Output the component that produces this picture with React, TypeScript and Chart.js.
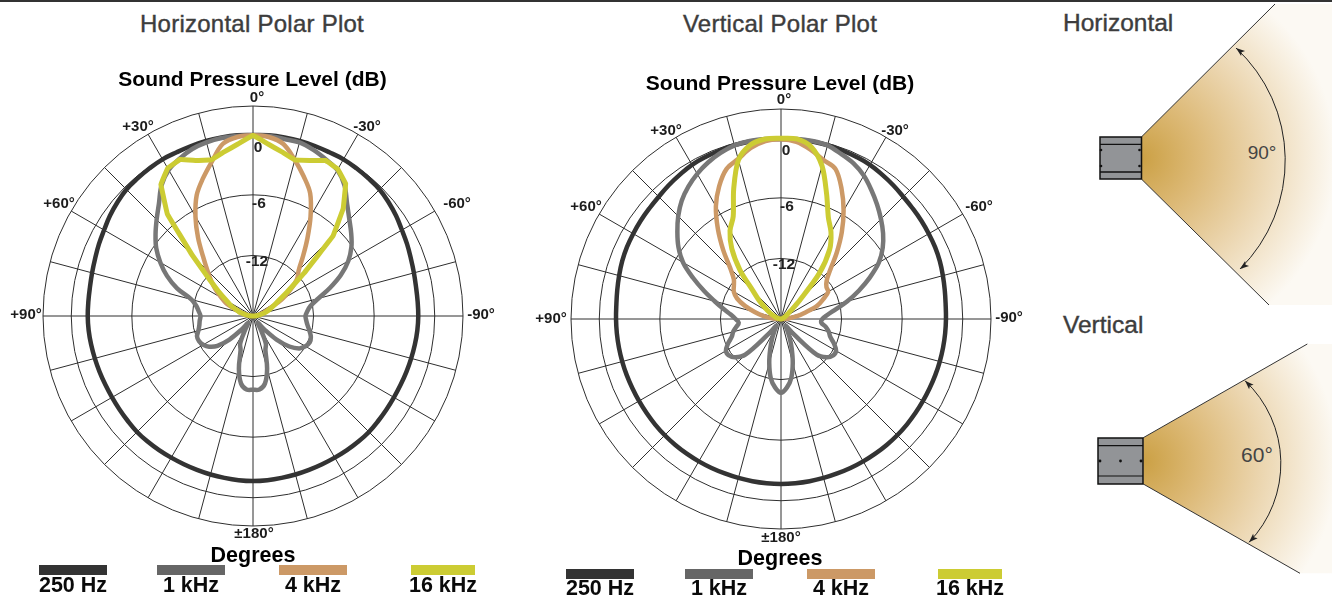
import React, { useEffect, useRef } from "react";
import { Chart, registerables } from "chart.js";

Chart.register(...registerables);

const angles = [
  0, 5, 10, 15, 20, 25, 30, 35, 40, 45, 50, 55,
  60, 65, 70, 75, 80, 85, 90, 95, 100, 105, 110, 115,
  120, 125, 130, 135, 140, 145, 150, 155, 160, 165, 170, 175,
  180, 185, 190, 195, 200, 205, 210, 215, 220, 225, 230, 235,
  240, 245, 250, 255, 260, 265, 270, 275, 280, 285, 290, 295,
  300, 305, 310, 315, 320, 325, 330, 335, 340, 345, 350, 355,
];
const seriesNames = ["250 Hz", "1 kHz", "4 kHz", "16 kHz"];
const ringValues = [-18, -12, -6, 0, 2.8];
const tickValues = [0, -6, -12];
const angleLabels = ["0°", "-30°", "-60°", "-90°", "±180°", "+90°", "+60°", "+30°"];
const spokeStep = 15;

// Values in dB, clockwise from 0° (0°, -5°, -10° ... ±180° ... +10°, +5°)
const horiz250 = [
  -0.08, -0.04, -0.04, -0.04, -0.08, -0.11, -0.08, -0.14, -0.21, -0.27, -0.47, -0.7,
  -0.97, -1.16, -1.36, -1.5, -1.6, -1.63, -1.63, -1.66, -1.72, -1.78, -1.83, -1.87,
  -1.88, -1.86, -1.82, -1.76, -1.76, -1.78, -1.8, -1.8, -1.78, -1.75, -1.72, -1.68,
  -1.66, -1.68, -1.72, -1.75, -1.78, -1.8, -1.8, -1.78, -1.76, -1.76, -1.82, -1.86,
  -1.88, -1.87, -1.83, -1.78, -1.72, -1.66, -1.63, -1.63, -1.6, -1.5, -1.36, -1.16,
  -0.97, -0.7, -0.47, -0.27, -0.21, -0.14, -0.08, -0.11, -0.08, -0.04, -0.04, -0.04,
];
const horiz1k = [
  -0.1, -0.1, -0.2, -0.2, -0.5, -0.9, -1.3, -2.2, -3.5, -4.5, -5.3, -6.1,
  -7.1, -8.4, -9.9, -11.3, -12.2, -12.6, -12.8, -12.7, -12.5, -12.2, -11.9, -11.8,
  -12, -12.4, -13.3, -14.7, -16.3, -17.2, -16.5, -15, -14.4, -12.6, -11.2, -10.7,
  -10.7, -10.7, -11.2, -12.6, -14.4, -15, -16.5, -17.2, -16.3, -14.7, -13.4, -12.7,
  -12.3, -12.1, -12.1, -12.4, -12.6, -12.7, -12.8, -12.6, -12.3, -11.7, -10, -8.6,
  -7.4, -6.3, -5.4, -4.5, -3.5, -2.2, -1.3, -0.8, -0.4, -0.2, -0.1, -0.1,
];
const horiz4k = [
  -0.1, -0.2, -0.7, -2, -3.3, -4.6, -6.6, -8.6, -10.3, -11.6, -12.3, -13.5,
  -14.7, -16.1, -16.7, -17.2, -17.5, -17.7, -17.9, -18, -18, -18, -18, -18,
  -18, -18, -18, -18, -18, -18, -18, -18, -18, -18, -18, -18,
  -18, -18, -18, -18, -18, -18, -18, -18, -18, -18, -18, -18,
  -18, -18, -18, -18, -18, -18, -17.9, -17.7, -17.3, -16.8, -16.2, -15.1,
  -14.4, -13.5, -12.6, -11.6, -10.3, -8.5, -6.6, -4.8, -3.5, -2.2, -0.7, -0.2,
];
const horiz16k = [
  -0.1, -0.9, -1.5, -2, -1.6, -1, -1.2, -2, -4.1, -6.8, -11.4, -13.9,
  -15.2, -15.9, -16.4, -16.8, -17.3, -17.6, -17.8, -18, -18, -18, -18, -18,
  -18, -18, -18, -18, -18, -18, -18, -18, -18, -18, -18, -18,
  -18, -18, -18, -18, -18, -18, -18, -18, -18, -18, -18, -18,
  -18, -18, -18, -18, -18, -18, -17.8, -17.6, -17.3, -16.7, -16.3, -15.6,
  -15, -13.9, -12.4, -9.5, -4.8, -2.1, -1.1, -0.9, -1.6, -2, -1.5, -0.9,
];
const vert250 = [
  -0.14, -0.14, -0.14, -0.17, -0.24, -0.3, -0.37, -0.54, -0.7, -0.87, -0.97, -1.03,
  -1.1, -1.16, -1.26, -1.4, -1.53, -1.63, -1.66, -1.68, -1.7, -1.72, -1.74, -1.76,
  -1.76, -1.75, -1.73, -1.72, -1.72, -1.72, -1.72, -1.72, -1.72, -1.7, -1.68, -1.67,
  -1.66, -1.67, -1.68, -1.7, -1.72, -1.72, -1.72, -1.72, -1.72, -1.72, -1.73, -1.75,
  -1.76, -1.76, -1.74, -1.72, -1.7, -1.68, -1.66, -1.63, -1.53, -1.4, -1.26, -1.16,
  -1.1, -1.03, -0.97, -0.87, -0.7, -0.54, -0.37, -0.3, -0.24, -0.17, -0.14, -0.14,
];
const vert1k = [
  -0.2, -0.1, -0.1, -0.2, -0.6, -1, -1.6, -2.4, -3.2, -4, -4.8, -5.7,
  -6.8, -8.3, -9.8, -11.2, -12.5, -13.4, -13.9, -14, -13.5, -13.1, -12.8, -12.2,
  -11.7, -11.7, -12.1, -13, -16, -17.2, -16.8, -16, -14.9, -13.5, -12.1, -11.2,
  -10.7, -11.2, -12.1, -13.5, -14.9, -16, -16.8, -17.2, -16, -13, -12.1, -11.7,
  -11.7, -12.2, -12.8, -13.1, -13.5, -13.8, -13.5, -13, -12.2, -11.2, -9.9, -8.4,
  -6.8, -5.6, -4.6, -3.6, -2.7, -2, -1.4, -0.9, -0.5, -0.2, -0.1, -0.1,
];
const vert4k = [
  -0.2, -0.4, -1, -1.7, -2.2, -3.8, -5.6, -7.5, -9.4, -11.1, -12.1, -12.5,
  -12.6, -13.4, -14.2, -15.5, -16.4, -17.2, -17.7, -18, -18, -18, -18, -18,
  -18, -18, -18, -18, -18, -18, -18, -18, -18, -18, -18, -18,
  -18, -18, -18, -18, -18, -18, -18, -18, -18, -18, -18, -18,
  -18, -18, -18, -18, -18, -18, -17.7, -17, -16.2, -15.3, -14.2, -13.2,
  -12.6, -12.3, -11.9, -10.9, -9.1, -7.1, -5.1, -3.5, -2.2, -1.6, -0.8, -0.3,
];
const vert16k = [
  -0.1, -0.1, -0.7, -2.3, -4.8, -6.9, -8.1, -9.6, -12.1, -15.4, -16.8, -17.3,
  -17.5, -17.7, -17.8, -17.8, -17.9, -17.9, -18, -18, -18, -18, -18, -18,
  -18, -18, -18, -18, -18, -18, -18, -18, -18, -18, -18, -18,
  -18, -18, -18, -18, -18, -18, -18, -18, -18, -18, -18, -18,
  -18, -18, -18, -18, -18, -18, -17.9, -17.9, -17.8, -17.6, -17.4, -17.1,
  -16.7, -16.1, -15.2, -14.1, -11.7, -9.5, -7.9, -6.8, -4.3, -1.7, -0.5, -0.1,
];

const FONT = "'Liberation Sans', Arial, sans-serif";
const lineColors = ["#333333", "#777777", "#CC9966", "#CCCC33"];
const legendColors = ["#333333", "#666666", "#CC9966", "#CCCC33"];
const lineWidths = [4.5, 4.5, 4.5, 5];

const CANVAS = 500;
const PAD = 40;

type Nudge = [number, number];

function PolarChart(props: {
  left: number;
  top: number;
  series: number[][];
  tensions: number[];
  angleNudges: Nudge[];
  tickNudges: Nudge[];
}) {
  const ref = useRef<HTMLCanvasElement>(null);
  useEffect(() => {
    const { series, tensions, angleNudges, tickNudges } = props;
    const labelsPlugin = {
      id: "polarLabels",
      afterDraw(chart: any) {
        const { ctx } = chart;
        const s = chart.scales.r;
        ctx.save();
        ctx.textAlign = "center";
        ctx.textBaseline = "middle";
        ctx.fillStyle = "#1c1c1c";
        ctx.font = `bold 15px ${FONT}`;
        angleLabels.forEach((t, i) => {
          ctx.fillText(t, s.xCenter + angleNudges[i][0], s.yCenter + angleNudges[i][1]);
        });
        ctx.fillStyle = "#222";
        ctx.font = `bold 15.5px ${FONT}`;
        tickValues.forEach((v, i) => {
          const d = s.getDistanceFromCenterForValue(v);
          ctx.fillText(String(v), s.xCenter + tickNudges[i][0], s.yCenter - d + tickNudges[i][1]);
        });
        ctx.restore();
      },
    };
    const chart = new Chart(ref.current as HTMLCanvasElement, {
      type: "radar",
      data: {
        labels: angles,
        datasets: series.map((data, i) => ({
          label: seriesNames[i],
          data,
          borderColor: lineColors[i],
          borderWidth: lineWidths[i],
          backgroundColor: "transparent",
          fill: false,
          pointRadius: 0,
          tension: tensions[i],
          borderJoinStyle: "round",
          order: series.length - i,
        })),
      },
      options: {
        animation: false,
        responsive: false,
        maintainAspectRatio: false,
        events: [],
        layout: { padding: PAD },
        plugins: { legend: { display: false }, tooltip: { enabled: false }, title: { display: false } },
        scales: {
          r: {
            min: ringValues[0],
            max: ringValues[ringValues.length - 1],
            afterBuildTicks(scale: any) {
              scale.ticks = ringValues.map((value) => ({ value }));
            },
            grid: { circular: true, color: "#2e2e2e", lineWidth: 1 },
            angleLines: {
              display: true,
              color: "#2e2e2e",
              lineWidth: (c: any) => (angles[c.index] % spokeStep === 0 ? 1 : 0),
            },
            pointLabels: { display: false },
            ticks: { display: false },
          },
        },
      },
      plugins: [labelsPlugin],
    } as any);
    return () => chart.destroy();
  }, []);
  return (
    <canvas
      ref={ref}
      width={CANVAS}
      height={CANVAS}
      style={{ position: "absolute", left: props.left, top: props.top, width: CANVAS, height: CANVAS }}
    />
  );
}

function Txt(props: {
  x: number;
  y: number;
  size: number;
  bold?: boolean;
  color?: string;
  align?: "center" | "left";
  spacing?: number;
  stroke?: number;
  children: React.ReactNode;
}) {
  const { x, y, size, bold, color, align = "center", spacing = 0, stroke = 0 } = props;
  return (
    <div
      style={{
        position: "absolute",
        left: x,
        top: y,
        transform: align === "center" ? "translate(-50%,-50%)" : "translateY(-50%)",
        font: `${bold ? "bold " : ""}${size}px ${FONT}`,
        color: color || "#000",
        whiteSpace: "nowrap",
        letterSpacing: spacing,
        WebkitTextStroke: stroke ? `${stroke}px ${color || "#000"}` : undefined,
      }}
    >
      {props.children}
    </div>
  );
}

function Legend(props: { bars: [number, number][]; labelXs: number[]; barY: number; labelY: number }) {
  return (
    <>
      {seriesNames.map((name, i) => (
        <React.Fragment key={name}>
          <div
            style={{
              position: "absolute",
              left: props.bars[i][0],
              top: props.barY,
              width: props.bars[i][1] - props.bars[i][0],
              height: 10,
              background: legendColors[i],
            }}
          />
          <Txt x={props.labelXs[i]} y={props.labelY} size={21.5} bold color="#0a0a0a">
            {name}
          </Txt>
        </React.Fragment>
      ))}
    </>
  );
}

function Arrow(props: { x: number; y: number; rot: number }) {
  return (
    <polygon
      points="0,0 9,-3.2 7,0 9,3.2"
      fill="#222"
      transform={`translate(${props.x} ${props.y}) rotate(${props.rot})`}
    />
  );
}

function Diagrams() {
  const dot = "#111";
  return (
    <svg
      width={1332}
      height={596}
      style={{ position: "absolute", left: 0, top: 0 }}
      xmlns="http://www.w3.org/2000/svg"
    >
      <defs>
        <radialGradient id="gh" gradientUnits="userSpaceOnUse" cx={1141} cy={158} r={195}>
          <stop offset="0" stopColor="#CBA044" />
          <stop offset="0.3" stopColor="#DDBA78" />
          <stop offset="0.6" stopColor="#EBD5AE" />
          <stop offset="0.85" stopColor="#F6ECDA" />
          <stop offset="1" stopColor="#FCF9F3" />
        </radialGradient>
        <radialGradient id="gv" gradientUnits="userSpaceOnUse" cx={1143} cy={461} r={195}>
          <stop offset="0" stopColor="#CBA044" />
          <stop offset="0.3" stopColor="#DDBA78" />
          <stop offset="0.6" stopColor="#EBD5AE" />
          <stop offset="0.85" stopColor="#F6ECDA" />
          <stop offset="1" stopColor="#FCF9F3" />
        </radialGradient>
      </defs>

      {/* Horizontal */}
      <polygon points="1141.7,136.7 1275,4 1332,4 1332,305 1269,305 1141.7,179.3" fill="url(#gh)" />
      <line x1={1141.7} y1={136.7} x2={1275} y2={4} stroke="#333" strokeWidth={1} />
      <line x1={1141.7} y1={179.3} x2={1269} y2={305} stroke="#333" strokeWidth={1} />
      <rect x={1100} y={137} width={41.5} height={42} fill="#929497" stroke="#111" strokeWidth={1.5} />
      <line x1={1100} y1={144.3} x2={1141.5} y2={144.3} stroke="#111" strokeWidth={1.3} />
      <line x1={1100} y1={172} x2={1141.5} y2={172} stroke="#111" strokeWidth={1.3} />
      {[[1101, 150], [1101, 166], [1139.5, 150], [1139.5, 166]].map(([x, y], i) => (
        <circle key={i} cx={x} cy={y} r={1.3} fill={dot} />
      ))}
      <path d="M1236 48 A153 153 0 0 1 1240 269" fill="none" stroke="#222" strokeWidth={1} />
      <Arrow x={1236} y={48} rot={38} />
      <Arrow x={1240} y={269} rot={-38} />
      <text x={1262} y={159} fontFamily={FONT} fontSize={19} fill="#444" textAnchor="middle">
        90°
      </text>

      {/* Vertical */}
      <polygon points="1143.3,437.7 1307.3,344 1332,344 1332,573.3 1300,573.3 1143.3,484" fill="url(#gv)" />
      <line x1={1143.3} y1={437.7} x2={1307.3} y2={344} stroke="#333" strokeWidth={1} />
      <line x1={1143.3} y1={484} x2={1300} y2={573.3} stroke="#333" strokeWidth={1} />
      <rect x={1098} y={438} width={45} height={46} fill="#929497" stroke="#111" strokeWidth={1.5} />
      <line x1={1098} y1={445.7} x2={1143} y2={445.7} stroke="#111" strokeWidth={1.2} />
      <line x1={1098} y1={476} x2={1143} y2={476} stroke="#111" strokeWidth={1.2} />
      {[[1100, 461], [1120.5, 461], [1141, 461]].map(([x, y], i) => (
        <circle key={i} cx={x} cy={y} r={1.4} fill={dot} />
      ))}
      <path d="M1245 380.7 A113.5 113.5 0 0 1 1249 542.3" fill="none" stroke="#222" strokeWidth={1} />
      <Arrow x={1245} y={380.7} rot={45} />
      <Arrow x={1249} y={542.3} rot={-45} />
      <text x={1257} y={462} fontFamily={FONT} fontSize={21} fill="#444" textAnchor="middle">
        60°
      </text>
    </svg>
  );
}

export default function App() {
  const hSeries = [horiz250, horiz1k, horiz4k, horiz16k];
  const vSeries = [vert250, vert1k, vert4k, vert16k];
  const titleColor = "#3d3d3d";
  return (
    <div
      style={{
        position: "fixed",
        left: 0,
        top: 0,
        width: 1332,
        height: 596,
        background: "#fff",
        overflow: "hidden",
      }}
    >
      <div style={{ position: "absolute", left: 0, top: 0, width: 1332, height: 2, background: "#333" }} />
      <Diagrams />
      <PolarChart
        left={3}
        top={66}
        series={hSeries}
        tensions={[0.4, 0.35, 0.35, 0.03]}
        angleNudges={[[4, -218], [114, -189], [204, -112], [228, -1], [1, 218], [-227, -1], [-194, -112], [-115, -189]]}
        tickNudges={[[5, 13.5], [6, 8.5], [4, 6]]}
      />
      <PolarChart
        left={531}
        top={69}
        series={vSeries}
        tensions={[0.4, 0.35, 0.35, 0.3]}
        angleNudges={[[3, -219], [114, -188], [198, -112], [228, -1], [0, 219], [-230, 0], [-195, -112], [-115, -188]]}
        tickNudges={[[5, 13.5], [6, 8.5], [3, 6]]}
      />
      <Txt x={252} y={24} size={24} color={titleColor} spacing={0.25} stroke={0.4}>
        Horizontal Polar Plot
      </Txt>
      <Txt x={780} y={24} size={24} color={titleColor} spacing={0.25} stroke={0.4}>
        Vertical Polar Plot
      </Txt>
      <Txt x={1063} y={23} size={24.5} color={titleColor} align="left" stroke={0.4}>
        Horizontal
      </Txt>
      <Txt x={1063} y={325} size={24.5} color={titleColor} align="left" stroke={0.4}>
        Vertical
      </Txt>
      <Txt x={252.5} y={79} size={21} bold>
        Sound Pressure Level (dB)
      </Txt>
      <Txt x={780} y={83} size={21} bold>
        Sound Pressure Level (dB)
      </Txt>
      <Txt x={253} y={555} size={21.5} bold>
        Degrees
      </Txt>
      <Txt x={780} y={558} size={21.5} bold>
        Degrees
      </Txt>
      <Legend bars={[[39, 107], [157, 225], [279, 347], [411, 475]]} labelXs={[73, 191, 313, 443]} barY={565} labelY={585} />
      <Legend bars={[[566, 634], [685, 753], [807, 875], [938, 1002]]} labelXs={[600, 719, 841, 970]} barY={569} labelY={588} />
    </div>
  );
}
